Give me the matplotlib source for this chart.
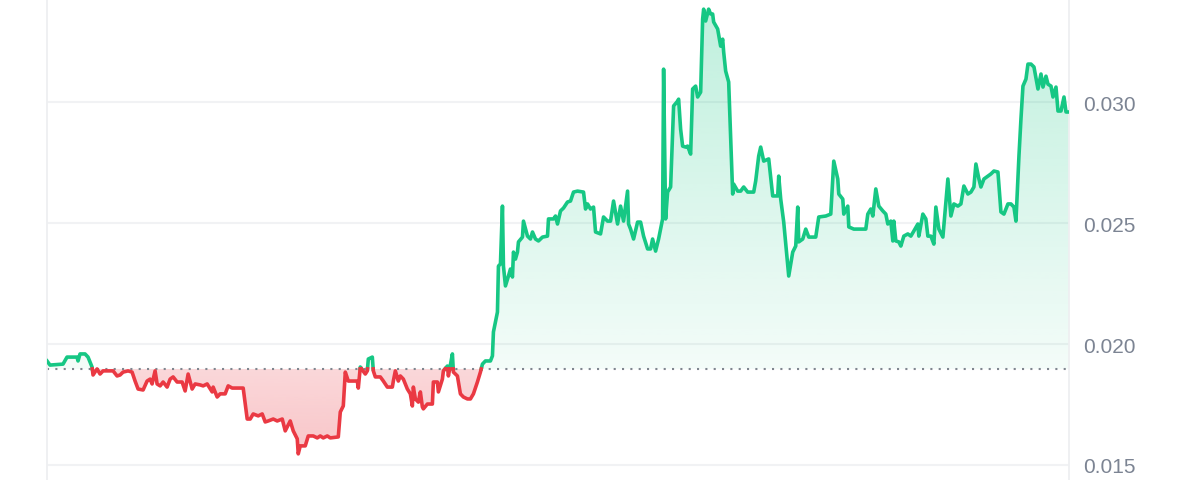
import numpy as np
import matplotlib.pyplot as plt
from matplotlib.path import Path
from matplotlib.colors import to_rgb
from matplotlib.ticker import FormatStrFormatter

# sample times (10 minute steps) and price
t_10min = [
    0, 3, 16, 20, 30, 31, 33, 38, 41, 45,
    46, 50, 53, 56, 66, 70, 73, 76, 81, 85,
    88, 91, 96, 100, 103, 105, 108, 110, 113, 116,
    120, 123, 126, 130, 135, 138, 141, 145, 148, 153,
    156, 160, 165, 166, 170, 173, 178, 181, 185, 196,
    200, 203, 206, 211, 215, 218, 221, 226, 230, 235,
    238, 243, 246, 250, 251, 253, 258, 261, 266, 270,
    273, 276, 280, 283, 291, 293, 296, 298, 301, 310,
    311, 313, 315, 318, 320, 321, 325, 326, 328, 333,
    336, 340, 345, 346, 348, 351, 353, 356, 360, 363,
    365, 366, 368, 371, 373, 375, 376, 380, 385, 386,
    390, 391, 395, 396, 400, 401, 405, 406, 410, 413,
    416, 420, 423, 426, 430, 433, 435, 438, 443, 445,
    446, 450, 451, 453, 455, 456, 458, 461, 463, 465,
    466, 468, 470, 471, 475, 476, 480, 483, 485, 488,
    491, 495, 500, 501, 506, 508, 510, 513, 516, 520,
    523, 526, 530, 536, 538, 540, 543, 546, 548, 553,
    556, 560, 563, 566, 570, 573, 576, 580, 581, 583,
    586, 590, 593, 596, 600, 603, 605, 608, 611, 615,
    616, 618, 620, 623, 626, 630, 631, 633, 635, 638,
    640, 643, 645, 648, 650, 653, 655, 656, 658, 661,
    663, 665, 666, 670, 673, 675, 676, 678, 681, 685,
    686, 690, 693, 696, 700, 706, 708, 711, 713, 716,
    721, 725, 730, 731, 733, 736, 741, 745, 748, 750,
    751, 755, 758, 761, 768, 771, 778, 783, 786, 790,
    791, 795, 796, 800, 801, 806, 818, 820, 823, 825,
    828, 831, 835, 838, 840, 843, 845, 846, 848, 851,
    853, 856, 860, 863, 866, 870, 871, 875, 878, 880,
    883, 886, 888, 891, 895, 900, 903, 906, 910, 913,
    916, 920, 923, 926, 928, 931, 933, 936, 940, 943,
    946, 950, 953, 956, 960, 963, 966, 968, 971, 973,
    975, 978, 980, 983, 986, 990, 993, 995, 998, 1000,
    1003, 1005, 1008, 1010, 1013, 1016, 1018, 1021,
]

price = [
    0.01930, 0.01913, 0.01917, 0.01946, 0.01946, 0.01930, 0.01959, 0.01959, 0.01946, 0.01905,
    0.01872, 0.01897, 0.01876, 0.01889, 0.01889, 0.01868, 0.01872, 0.01884, 0.01889, 0.01884,
    0.01847, 0.01814, 0.01810, 0.01847, 0.01855, 0.01835, 0.01889, 0.01835, 0.01827, 0.01843,
    0.01822, 0.01855, 0.01864, 0.01843, 0.01843, 0.01806, 0.01876, 0.01814, 0.01835, 0.01831,
    0.01827, 0.01835, 0.01802, 0.01822, 0.01781, 0.01794, 0.01794, 0.01827, 0.01818, 0.01818,
    0.01690, 0.01690, 0.01711, 0.01703, 0.01711, 0.01678, 0.01682, 0.01690, 0.01682, 0.01690,
    0.01641, 0.01682, 0.01641, 0.01608, 0.01546, 0.01579, 0.01579, 0.01620, 0.01620, 0.01612,
    0.01620, 0.01612, 0.01620, 0.01612, 0.01616, 0.01719, 0.01744, 0.01884, 0.01847, 0.01847,
    0.01818, 0.01905, 0.01893, 0.01876, 0.01889, 0.01938, 0.01946, 0.01889, 0.01864, 0.01864,
    0.01847, 0.01822, 0.01822, 0.01847, 0.01889, 0.01847, 0.01868, 0.01855, 0.01814, 0.01794,
    0.01744, 0.01822, 0.01773, 0.01760, 0.01802, 0.01740, 0.01732, 0.01752, 0.01752, 0.01843,
    0.01843, 0.01802, 0.01855, 0.01889, 0.01909, 0.01868, 0.01959, 0.01884, 0.01868, 0.01794,
    0.01781, 0.01773, 0.01773, 0.01794, 0.01843, 0.01884, 0.01917, 0.01930, 0.01930, 0.01951,
    0.02050, 0.02132, 0.02322, 0.02331, 0.02570, 0.02322, 0.02240, 0.02281, 0.02310, 0.02277,
    0.02380, 0.02351, 0.02380, 0.02422, 0.02442, 0.02508, 0.02446, 0.02434, 0.02463, 0.02434,
    0.02426, 0.02442, 0.02446, 0.02517, 0.02517, 0.02529, 0.02496, 0.02550, 0.02562, 0.02587,
    0.02591, 0.02628, 0.02632, 0.02628, 0.02558, 0.02579, 0.02558, 0.02566, 0.02463, 0.02455,
    0.02525, 0.02508, 0.02508, 0.02591, 0.02496, 0.02570, 0.02508, 0.02632, 0.02496, 0.02475,
    0.02434, 0.02504, 0.02504, 0.02446, 0.02393, 0.02393, 0.02434, 0.02384, 0.02434, 0.02517,
    0.03136, 0.02517, 0.02628, 0.02649, 0.02984, 0.03004, 0.03012, 0.02888, 0.02818, 0.02814,
    0.02818, 0.02785, 0.03054, 0.03066, 0.03021, 0.03041, 0.03343, 0.03384, 0.03335, 0.03384,
    0.03364, 0.03364, 0.03331, 0.03302, 0.03231, 0.03260, 0.03207, 0.03128, 0.03083, 0.02620,
    0.02661, 0.02632, 0.02632, 0.02649, 0.02628, 0.02628, 0.02674, 0.02777, 0.02814, 0.02756,
    0.02765, 0.02612, 0.02612, 0.02694, 0.02599, 0.02504, 0.02281, 0.02380, 0.02405, 0.02566,
    0.02422, 0.02434, 0.02475, 0.02442, 0.02442, 0.02525, 0.02529, 0.02537, 0.02756, 0.02682,
    0.02620, 0.02599, 0.02537, 0.02570, 0.02484, 0.02475, 0.02475, 0.02537, 0.02558, 0.02529,
    0.02641, 0.02570, 0.02550, 0.02537, 0.02496, 0.02508, 0.02426, 0.02508, 0.02426, 0.02422,
    0.02405, 0.02446, 0.02455, 0.02446, 0.02467, 0.02496, 0.02446, 0.02537, 0.02517, 0.02446,
    0.02446, 0.02413, 0.02566, 0.02475, 0.02442, 0.02682, 0.02529, 0.02579, 0.02570, 0.02579,
    0.02653, 0.02620, 0.02628, 0.02649, 0.02744, 0.02682, 0.02649, 0.02682, 0.02694, 0.02703,
    0.02715, 0.02711, 0.02546, 0.02537, 0.02579, 0.02579, 0.02566, 0.02508, 0.02777, 0.02930,
    0.03066, 0.03095, 0.03157, 0.03157, 0.03145, 0.03054, 0.03116, 0.03062, 0.03107, 0.03074,
    0.03066, 0.03021, 0.03062, 0.02963, 0.02963, 0.03021, 0.02959, 0.02959,
]

base = 0.01897  # opening price, dotted reference line
y_ticks = [0.015, 0.020, 0.025, 0.030]
y_min, y_max = 0.01438, 0.03426

green = '#16c784'
red = '#ea3943'

# add the points where the line crosses the reference so colours switch cleanly
tt, pp = [t_10min[0]], [price[0]]
for i in range(1, len(price)):
    a = price[i - 1] - base
    b = price[i] - base
    if a * b < 0:
        f = a / (a - b)
        tt.append(t_10min[i - 1] + f * (t_10min[i] - t_10min[i - 1]))
        pp.append(base)
    tt.append(t_10min[i])
    pp.append(price[i])
tt = np.array(tt)
pp = np.array(pp)

plt.rcParams['font.family'] = ['Liberation Sans', 'DejaVu Sans']

fig = plt.figure(figsize=(12, 4.81), dpi=100)
ax = fig.add_axes([47 / 1200, 0, 1022 / 1200, 1])
ax.set_xlim(tt[0], tt[-1])
ax.set_ylim(y_min, y_max)


def gradient_fill(mask, color, lo, hi, a_lo, a_hi):
    coll = ax.fill_between(tt, pp, base, where=mask, interpolate=True,
                           facecolor='none', edgecolor='none')
    paths = coll.get_paths()
    if not paths:
        return
    clip = Path.make_compound_path(*paths)
    img = np.zeros((256, 1, 4))
    img[..., :3] = to_rgb(color)
    img[:, 0, 3] = np.linspace(a_hi, a_lo, 256)  # row 0 is top
    im = ax.imshow(img, extent=[tt[0], tt[-1], lo, hi], aspect='auto',
                   origin='upper', zorder=1, interpolation='bilinear')
    im.set_clip_path(clip, transform=ax.transData)


gradient_fill(pp >= base, green, base, y_max, 0.05, 0.28)
gradient_fill(pp <= base, red, y_min, base, 0.32, 0.2)
ax.set_xlim(tt[0], tt[-1])
ax.set_ylim(y_min, y_max)

ax.plot(tt, np.where(pp >= base, pp, np.nan), color=green, lw=2.6,
        solid_joinstyle='round', zorder=3)
ax.plot(tt, np.where(pp <= base, pp, np.nan), color=red, lw=2.6,
        solid_joinstyle='round', zorder=3)
ax.axhline(base, color='#80868f', lw=1.5, ls=(0, (1, 3)), zorder=2)

ax.set_yticks(y_ticks)
ax.yaxis.set_major_formatter(FormatStrFormatter('%.3f'))
ax.yaxis.tick_right()
ax.tick_params(axis='y', length=0, pad=10, labelsize=15, labelcolor='#7c8493')
ax.set_xticks([])
ax.grid(axis='y', color='#f1f2f4', lw=1.5, zorder=0)
ax.set_axisbelow(True)

for s in ['top', 'bottom']:
    ax.spines[s].set_visible(False)
for s in ['left', 'right']:
    ax.spines[s].set_color('#eeeff1')
    ax.spines[s].set_linewidth(1.3)

fig.savefig('out.png', dpi=100)
